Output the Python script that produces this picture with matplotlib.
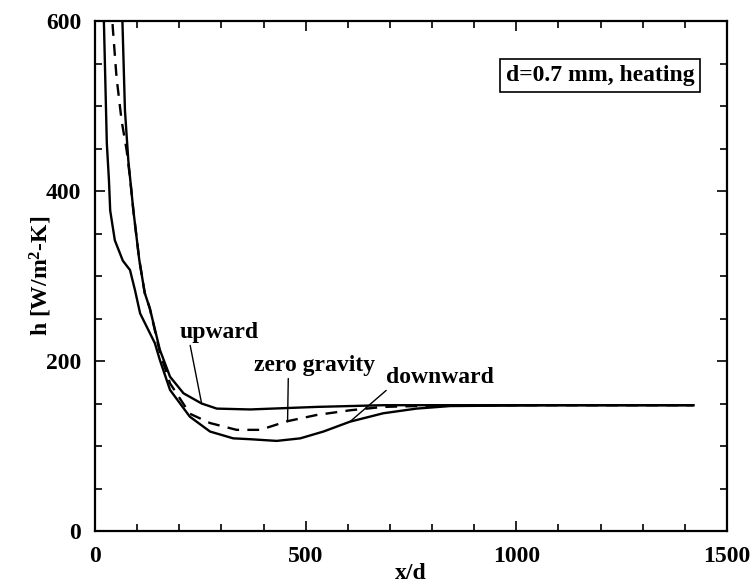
import matplotlib
matplotlib.use("Agg")
import matplotlib.pyplot as plt
from matplotlib.ticker import MultipleLocator

plt.rcParams['font.family'] = ['Liberation Serif', 'DejaVu Serif']
plt.rcParams['font.weight'] = 'bold'
plt.rcParams['mathtext.fontset'] = 'custom'
plt.rcParams['mathtext.rm'] = 'Liberation Serif:bold'
plt.rcParams['mathtext.bf'] = 'Liberation Serif:bold'
plt.rcParams['mathtext.it'] = 'Liberation Serif:bold'

# Data (x/d, h)
down_x = [19, 21, 28, 33, 36, 47, 66, 83, 95, 107, 119, 142, 154, 178, 225, 273, 328, 368, 431, 487, 542, 605, 684, 763, 843, 1080, 1420]
down_h = [700, 600, 456, 413, 377, 342, 318, 307, 283, 256, 244, 221, 201, 166, 134.5, 117, 109, 108, 106, 109, 117, 128.6, 138.5, 144, 147, 148, 148]

up_x = [63, 65, 71, 79, 91, 105, 118, 130, 154, 178, 210, 253, 289, 368, 526, 684, 1080, 1420]
up_h = [650, 600, 495, 436, 377, 319, 280, 262, 213, 181.5, 162, 150, 144, 143, 146, 148, 148, 148]

zero_x = [40, 42, 51, 63, 75, 83, 91, 105, 118, 130, 154, 178, 225, 273, 336, 392, 455, 526, 605, 684, 843, 1080, 1420]
zero_h = [620, 593, 534, 483, 448, 416, 377, 319, 280, 262, 210, 173.7, 138, 127, 119, 119, 129, 136.5, 142, 146, 148, 148, 148]

FS = 17

fig = plt.figure(figsize=(7.53, 5.85), dpi=100)
ax = fig.add_axes([0.1262, 0.0923, 0.8393, 0.8718])

ax.plot(down_x, down_h, color='black', lw=1.7, solid_joinstyle='round')
ax.plot(up_x, up_h, color='black', lw=1.7, solid_joinstyle='round')
ax.plot(zero_x, zero_h, color='black', lw=1.7, ls=(0, (5, 3.5)))

ax.set_xlim(0, 1500)
ax.set_ylim(0, 600)
ax.xaxis.set_major_locator(MultipleLocator(500))
ax.xaxis.set_minor_locator(MultipleLocator(100))
ax.yaxis.set_major_locator(MultipleLocator(200))
ax.yaxis.set_minor_locator(MultipleLocator(50))
ax.tick_params(which='both', direction='in', top=True, right=True, labelsize=FS, width=1.2)
ax.tick_params(which='major', length=7)
ax.tick_params(which='minor', length=5)
ax.tick_params(axis='x', pad=11)
ax.tick_params(axis='y', pad=10)
for s in ax.spines.values():
    s.set_linewidth(1.6)
for lab in ax.get_xticklabels() + ax.get_yticklabels():
    lab.set_fontweight('bold')

ax.set_xlabel('x/d', fontsize=FS, fontweight='bold', labelpad=-3)
ax.set_ylabel(r'h [W/m$^{2}$-K]', fontsize=FS, fontweight='bold', labelpad=-6)

ax.text(1199, 536, 'd=0.7 mm, heating', fontsize=FS, fontweight='bold', ha='center', va='center',
        bbox=dict(boxstyle='square,pad=0.25', fc='white', ec='black', lw=1.2))

ax.annotate('upward', xy=(253, 150), xytext=(294, 234), fontsize=FS, fontweight='bold',
            ha='center', va='center',
            arrowprops=dict(arrowstyle='-', color='black', lw=1.0, shrinkA=0, shrinkB=0,
                            relpos=(0.13, 0.0)))
ax.annotate('zero gravity', xy=(457, 128.6), xytext=(522, 195), fontsize=FS, fontweight='bold',
            ha='center', va='center',
            arrowprops=dict(arrowstyle='-', color='black', lw=1.0, shrinkA=0, shrinkB=0,
                            relpos=(0.28, 0.0)))
ax.annotate('downward', xy=(605, 128.6), xytext=(819, 181), fontsize=FS, fontweight='bold',
            ha='center', va='center',
            arrowprops=dict(arrowstyle='-', color='black', lw=1.0, shrinkA=0, shrinkB=0,
                            relpos=(0.03, 0.0)))

fig.savefig('out.png', dpi=100)
